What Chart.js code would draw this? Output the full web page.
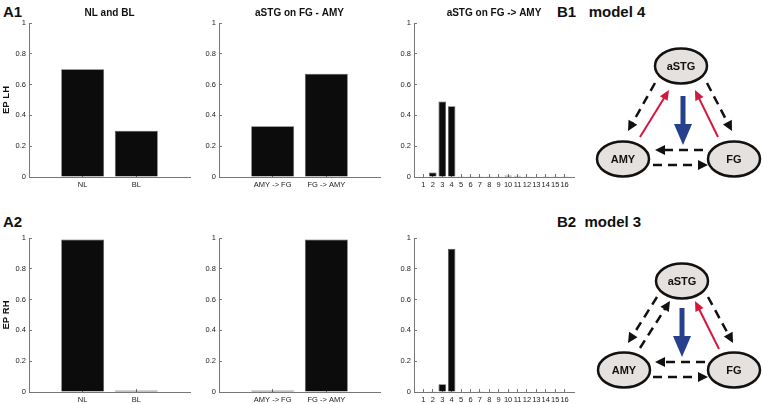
<!DOCTYPE html>
<html>
<head>
<meta charset="utf-8">
<script src="https://cdn.jsdelivr.net/npm/chart.js@4.4.1/dist/chart.umd.min.js"></script>
<style>
  body { margin: 0; width: 764px; height: 404px; position: relative; overflow: hidden; background: #fff;
         font-family: "Liberation Sans", Arial, sans-serif; }
  canvas { position: absolute; }
  .panel { position: absolute; font-weight: bold; font-size: 15px; color: #111; line-height: 1; }
  svg { position: absolute; left: 0; top: 0; }
</style>
</head>
<body>

<div class="panel" style="left:3px; top:4px;">A1</div>
<div class="panel" style="left:3px; top:214px;">A2</div>
<div class="panel" style="left:557px; top:4px;">B1&nbsp;&nbsp;&nbsp;model 4</div>
<div class="panel" style="left:557px; top:214px;">B2&nbsp;&nbsp;model 3</div>

<canvas id="c1" width="198" height="192" style="left:0px; top:0px;"></canvas>
<canvas id="c2" width="198" height="192" style="left:190px; top:0px;"></canvas>
<canvas id="c3" width="197" height="192" style="left:385px; top:0px;"></canvas>
<canvas id="c4" width="198" height="192" style="left:0px; top:215px;"></canvas>
<canvas id="c5" width="198" height="192" style="left:190px; top:215px;"></canvas>
<canvas id="c6" width="197" height="192" style="left:385px; top:215px;"></canvas>

<svg id="diagram" width="764" height="404"></svg>

<script>
// categories
const nlBlLabels = ['NL', 'BL'];
const directionLabels = ['AMY -> FG', 'FG -> AMY'];
const modelLabels = ['1', '2', '3', '4', '5', '6', '7', '8', '9', '10', '11', '12', '13', '14', '15', '16'];

// exceedance probabilities, left hemisphere (top row)
const nlBlLH = [0.70, 0.30];
const directionLH = [0.33, 0.67];
const modelsLH = [0, 0.03, 0.49, 0.46, 0.001, 0.001, 0.001, 0.001, 0.001, 0.01, 0.008, 0.002, 0.003, 0.001, 0.001, 0.001];

// right hemisphere (bottom row)
const nlBlRH = [0.99, 0.01];
const directionRH = [0.01, 0.99];
const modelsRH = [0, 0.002, 0.05, 0.93, 0, 0, 0.005, 0, 0, 0, 0, 0, 0, 0, 0.003, 0];

const yTicks = [0, 0.2, 0.4, 0.6, 0.8, 1];

const tickFont = { family: '"Liberation Sans", Arial, sans-serif', size: 7.5 };

// matlab style: short ticks pointing into the plot
const inwardTicks = { display: true, drawOnChartArea: false, drawTicks: true, tickLength: -3, tickColor: '#777', tickWidth: 1 };

function makeChart(id, labels, values, title, yTitle) {
    const n = labels.length;
    return new Chart(document.getElementById(id), {
        type: 'bar',
        data: {
            datasets: [{
                data: values.map((v, i) => ({ x: i + 1, y: v })),
                backgroundColor: '#0c0c0c',
                borderColor: '#555',
                borderWidth: 0.8,
                categoryPercentage: 1,
                barPercentage: 0.8
            }]
        },
        options: {
            responsive: false,
            animation: false,
            events: [],
            layout: { padding: { top: title ? 0 : 23, right: 8, left: 0, bottom: 0 } },
            plugins: {
                legend: { display: false },
                tooltip: { enabled: false },
                title: {
                    display: !!title,
                    text: title,
                    fullSize: false,
                    color: '#111',
                    font: { family: '"Liberation Sans", Arial, sans-serif', size: 10, weight: 'bold' },
                    padding: { top: 7, bottom: 4 }
                }
            },
            scales: {
                x: {
                    type: 'linear',
                    offset: false,
                    min: 0,
                    max: n + 1,
                    afterBuildTicks: s => { s.ticks = labels.map((l, i) => ({ value: i + 1 })); },
                    afterFit: s => { s.height = 15; },
                    ticks: {
                        callback: v => labels[v - 1] ?? '',
                        autoSkip: false,
                        maxRotation: 0,
                        color: '#222',
                        font: tickFont,
                        padding: 6
                    },
                    grid: { ...inwardTicks, offset: false },
                    border: { color: '#777', width: 1 }
                },
                y: {
                    min: 0,
                    max: 1,
                    afterBuildTicks: s => { s.ticks = yTicks.map(v => ({ value: v })); },
                    afterFit: s => { s.width = 29; },
                    ticks: {
                        callback: v => String(v),
                        color: '#222',
                        font: tickFont,
                        padding: 6
                    },
                    grid: inwardTicks,
                    border: { color: '#777', width: 1 },
                    title: {
                        display: !!yTitle,
                        text: yTitle,
                        color: '#111',
                        font: { family: '"Liberation Sans", Arial, sans-serif', size: 9.5, weight: 'bold' },
                        padding: { top: 1, bottom: 0 }
                    }
                }
            }
        }
    });
}

makeChart('c1', nlBlLabels, nlBlLH, 'NL and BL', 'EP LH');
makeChart('c2', directionLabels, directionLH, 'aSTG on FG - AMY');
makeChart('c3', modelLabels, modelsLH, 'aSTG on FG -> AMY');
makeChart('c4', nlBlLabels, nlBlRH, '', 'EP RH');
makeChart('c5', directionLabels, directionRH, '');
makeChart('c6', modelLabels, modelsRH, '');

// model diagrams (B1, B2)
const svg = document.getElementById('diagram');
const NS = 'http://www.w3.org/2000/svg';

function el(tag, attrs, text) {
    const e = document.createElementNS(NS, tag);
    for (const k in attrs) e.setAttribute(k, attrs[k]);
    if (text) e.textContent = text;
    svg.appendChild(e);
    return e;
}

function arrow(x1, y1, x2, y2, color, width, dashed, headLen, headW) {
    const dx = x2 - x1, dy = y2 - y1;
    const len = Math.hypot(dx, dy);
    const ux = dx / len, uy = dy / len;
    const bx = x2 - ux * headLen, by = y2 - uy * headLen;
    el('line', {
        x1: x1, y1: y1, x2: bx + ux * 1, y2: by + uy * 1,
        stroke: color, 'stroke-width': width,
        'stroke-dasharray': dashed ? '9 6' : 'none'
    });
    const px = -uy * headW / 2, py = ux * headW / 2;
    el('polygon', {
        points: `${x2},${y2} ${bx + px},${by + py} ${bx - px},${by - py}`,
        fill: color
    });
}

function node(cx, cy, label) {
    el('ellipse', { cx: cx, cy: cy, rx: 26, ry: 17.5, fill: '#e5e1df', stroke: '#111', 'stroke-width': 2.5 });
    el('text', {
        x: cx, y: cy + 4, 'text-anchor': 'middle', 'font-size': 11, 'font-weight': 'bold',
        'font-family': '"Liberation Sans", Arial, sans-serif', fill: '#111'
    }, label);
}

const RED = '#d5173c', BLUE = '#27408b', BLACK = '#111';

// B1: model 4
arrow(655, 83, 628, 131, BLACK, 2.5, true, 10, 10);
arrow(707, 83, 732, 131, BLACK, 2.5, true, 10, 10);
arrow(640, 137, 669, 90, RED, 2, false, 10, 9);
arrow(718, 137, 695, 90, RED, 2, false, 10, 9);
arrow(703, 150, 655, 150, BLACK, 2.5, true, 10, 10);
arrow(653, 165, 708, 165, BLACK, 2.5, true, 10, 10);
arrow(683, 96, 683, 145, BLUE, 5, false, 21, 18);
node(681, 66, 'aSTG');
node(623, 159, 'AMY');
node(734, 159, 'FG');

// B2: model 3
arrow(657, 297, 628, 343, BLACK, 2.5, true, 10, 10);
arrow(640, 348, 670, 301, BLACK, 2.5, true, 10, 10);
arrow(708, 297, 733, 343, BLACK, 2.5, true, 10, 10);
arrow(719, 349, 695, 301, RED, 2, false, 10, 9);
arrow(705, 362, 655, 362, BLACK, 2.5, true, 10, 10);
arrow(653, 377, 708, 377, BLACK, 2.5, true, 10, 10);
arrow(682, 308, 682, 357, BLUE, 5, false, 21, 18);
node(682, 281, 'aSTG');
node(624, 370, 'AMY');
node(734, 370, 'FG');
</script>
</body>
</html>
